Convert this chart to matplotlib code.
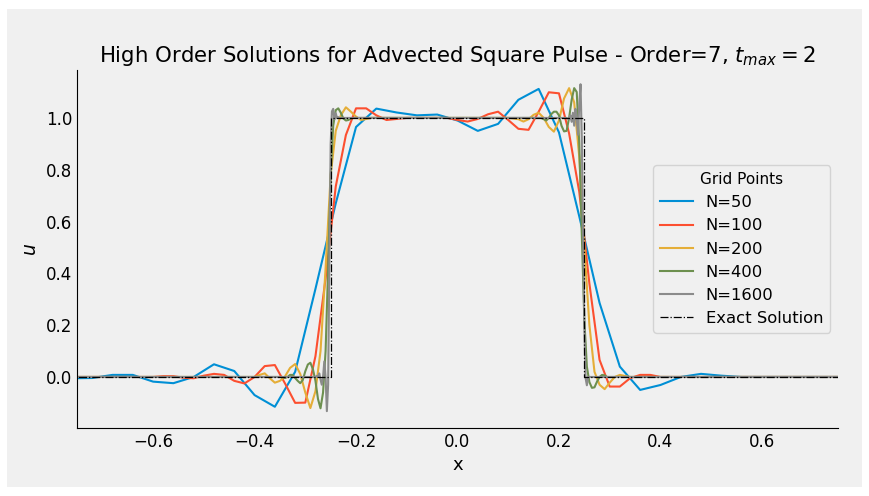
import matplotlib
matplotlib.use("Agg")
import matplotlib.pyplot as plt
from matplotlib.patches import Rectangle

# numerical solutions at t=2 (order 7 scheme), one array pair per grid size
x50 = [-0.76, -0.72, -0.68, -0.64, -0.60, -0.56, -0.52, -0.48, -0.44, -0.40,
       -0.36, -0.32, -0.28, -0.24, -0.20, -0.16, -0.12, -0.08, -0.04, 0.00,
       0.04, 0.08, 0.12, 0.16, 0.20, 0.24, 0.28, 0.32, 0.36, 0.40,
       0.44, 0.48, 0.52, 0.56, 0.60, 0.64, 0.68, 0.72, 0.76]
u50 = [-0.005, -0.004, 0.008, 0.008, -0.018, -0.024, 0.0, 0.049, 0.023, -0.07,
       -0.115, 0.02, 0.34, 0.67, 0.965, 1.036, 1.021, 1.01, 1.013, 0.99,
       0.95, 0.977, 1.07, 1.112, 0.944, 0.62, 0.286, 0.04, -0.05, -0.031,
       0.0, 0.012, 0.005, 0.0, 0.0, 0.0, 0.0, 0.0, 0.0]

x100 = [-0.76, -0.60, -0.58, -0.56, -0.54, -0.52, -0.50, -0.48, -0.46, -0.44,
        -0.42, -0.40, -0.38, -0.36, -0.34, -0.32, -0.30, -0.28, -0.26, -0.24,
        -0.22, -0.20, -0.18, -0.16, -0.14, -0.12, -0.10, -0.08, -0.06, -0.04,
        -0.02, 0.00, 0.02, 0.04, 0.06, 0.08, 0.10, 0.12, 0.14, 0.16,
        0.18, 0.20, 0.22, 0.24, 0.26, 0.28, 0.30, 0.32, 0.34, 0.36,
        0.38, 0.40, 0.42, 0.76]
u100 = [0.0, 0.0, 0.003, 0.003, -0.003, -0.005, 0.005, 0.012, 0.008, -0.015,
        -0.025, 0.0, 0.042, 0.046, -0.025, -0.1, -0.099, 0.08, 0.38, 0.735,
        0.934, 1.037, 1.037, 1.01, 0.992, 0.996, 1.0, 1.0, 1.0, 1.0,
        1.0, 0.992, 0.986, 0.996, 1.014, 1.024, 0.992, 0.958, 0.954, 1.024,
        1.099, 1.095, 0.94, 0.715, 0.36, 0.066, -0.037, -0.037, -0.005, 0.008,
        0.008, 0.0, 0.0, 0.0]

x200 = [-0.76, -0.41, -0.40, -0.39, -0.38, -0.37, -0.36, -0.35, -0.34, -0.33,
        -0.32, -0.31, -0.30, -0.29, -0.28, -0.27, -0.26, -0.25, -0.24, -0.23,
        -0.22, -0.21, -0.20, -0.19, -0.18, -0.17, 0.10, 0.11, 0.12, 0.13,
        0.14, 0.15, 0.16, 0.17, 0.18, 0.19, 0.20, 0.21, 0.22, 0.23,
        0.24, 0.25, 0.26, 0.27, 0.28, 0.29, 0.30, 0.31, 0.32, 0.33,
        0.34, 0.76]
u200 = [0.0, 0.0, 0.0, 0.008, 0.014, -0.005, -0.022, -0.015, 0.002, 0.035,
        0.05, 0.012, -0.06, -0.12, -0.055, 0.1, 0.42, 0.78, 0.95, 1.01,
        1.041, 1.024, 1.005, 0.992, 0.996, 1.0, 1.0, 0.998, 0.995, 0.986,
        0.995, 1.012, 1.02, 1.0, 0.965, 0.947, 0.99, 1.075, 1.115, 1.06,
        0.85, 0.5, 0.2, 0.02, -0.03, -0.047, -0.022, 0.0, 0.008, 0.004,
        0.0, 0.0]

x400 = [-0.76, -0.35, -0.345, -0.34, -0.335, -0.33, -0.325, -0.32, -0.315, -0.31,
        -0.305, -0.30, -0.295, -0.29, -0.285, -0.28, -0.275, -0.27, -0.265, -0.26,
        -0.255, -0.25, -0.245, -0.24, -0.235, -0.23, -0.225, -0.22, -0.215, -0.21,
        -0.205, 0.165, 0.17, 0.175, 0.18, 0.185, 0.19, 0.195, 0.20, 0.205,
        0.21, 0.215, 0.22, 0.225, 0.23, 0.235, 0.24, 0.245, 0.25, 0.255,
        0.26, 0.265, 0.27, 0.275, 0.28, 0.285, 0.29, 0.295, 0.76]
u400 = [0.0, 0.0, 0.0, -0.004, 0.0, 0.008, 0.008, -0.004, -0.015, -0.024,
        -0.012, 0.022, 0.048, 0.055, 0.03, -0.015, -0.085, -0.121, -0.06, 0.1,
        0.42, 0.78, 0.97, 1.03, 1.037, 1.02, 0.998, 0.99, 0.992, 0.998,
        1.0, 1.0, 0.995, 0.99, 1.0, 1.015, 1.024, 1.024, 1.01, 0.97,
        0.948, 0.95, 1.0, 1.07, 1.115, 1.1, 0.9, 0.55, 0.22, 0.04,
        -0.02, -0.042, -0.04, -0.018, 0.0, 0.008, 0.006, 0.0, 0.0]

x1600 = [-0.76, -0.28, -0.2775, -0.275, -0.2725, -0.27, -0.2675, -0.265, -0.2625, -0.26,
         -0.2575, -0.255, -0.2525, -0.25, -0.2475, -0.245, -0.2425, -0.24, -0.2375, -0.235,
         -0.2325, 0.215, 0.22, 0.2225, 0.225, 0.2275, 0.23, 0.2325, 0.235, 0.2375,
         0.24, 0.2425, 0.245, 0.2475, 0.25, 0.2525, 0.255, 0.2575, 0.26, 0.76]
u1600 = [0.0, 0.0, 0.004, 0.0, 0.014, -0.01, -0.03, 0.0, 0.06, 0.0,
         -0.132, -0.03, 0.45, 0.9, 1.025, 1.035, 0.995, 1.018, 1.0, 1.003,
         1.0, 1.0, 0.995, 1.01, 0.985, 1.02, 0.97, 1.035, 1.0, 0.935,
         1.05, 1.13, 0.92, 0.55, 0.2, -0.005, -0.032, 0.0, 0.0, 0.0]

# exact square pulse
x_exact = [-1.0, -0.25, -0.25, 0.25, 0.25, 1.0]
u_exact = [0.0, 0.0, 1.0, 1.0, 0.0, 0.0]

labels = ["N=50", "N=100", "N=200", "N=400", "N=1600"]
colors = ["#008fd5", "#fc4f30", "#e5ae38", "#6d904f", "#8b8b8b"]
bg = "#f0f0f0"

fig = plt.figure(figsize=(8.7, 4.96), dpi=100, facecolor="white")
fig.patches.append(Rectangle((7 / 870, 9 / 496), 855 / 870, 478 / 496,
                             transform=fig.transFigure, facecolor=bg,
                             edgecolor="none", zorder=-10))
ax = fig.add_axes([77 / 870, 68 / 496, 761 / 870, 358 / 496])
ax.set_facecolor(bg)

series = [(x50, u50), (x100, u100), (x200, u200), (x400, u400), (x1600, u1600)]
for (xs, us), lab, c in zip(series, labels, colors):
    ax.plot(xs, us, color=c, lw=1.5, label=lab)
ax.plot(x_exact, u_exact, "k-.", lw=0.9, label="Exact Solution")

ax.set_xlim(-0.75, 0.75)
ax.set_ylim(-0.197, 1.185)
ax.set_xticks([-0.6, -0.4, -0.2, 0.0, 0.2, 0.4, 0.6])
ax.set_yticks([0.0, 0.2, 0.4, 0.6, 0.8, 1.0])
ax.tick_params(labelsize=12, length=0)
ax.spines["top"].set_visible(False)
ax.spines["right"].set_visible(False)

ax.set_title("High Order Solutions for Advected Square Pulse - Order=7, $t_{max}=2$",
             fontsize=15.3)
ax.set_xlabel("x", fontsize=13)
ax.set_ylabel("$u$", fontsize=13.5)

leg = ax.legend(title="Grid Points", loc="center right", fontsize=11.8,
                title_fontsize=11, facecolor=bg, edgecolor="#cccccc")

fig.savefig("out.png", dpi=100, facecolor="white")
